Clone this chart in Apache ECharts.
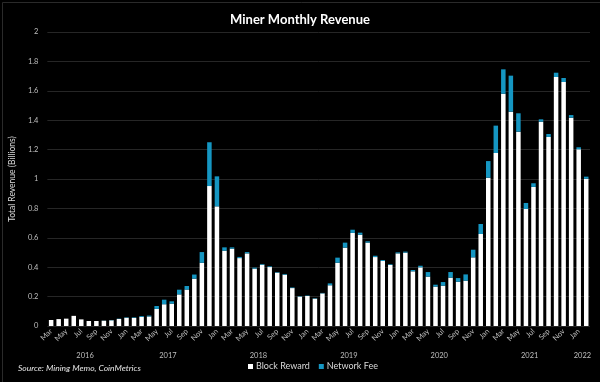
<!DOCTYPE html>
<html>
<head>
<meta charset="utf-8">
<script src="https://cdn.jsdelivr.net/npm/echarts@6/dist/echarts.min.js"></script>
<style>
html,body{margin:0;padding:0;background:#000;}
#c{width:600px;height:382px;background:#000;}
</style>
</head>
<body>
<div id="c"></div>
<script>
const months = ["Mar-16","Apr-16","May-16","Jun-16","Jul-16","Aug-16","Sep-16","Oct-16","Nov-16","Dec-16",
"Jan-17","Feb-17","Mar-17","Apr-17","May-17","Jun-17","Jul-17","Aug-17","Sep-17","Oct-17","Nov-17","Dec-17",
"Jan-18","Feb-18","Mar-18","Apr-18","May-18","Jun-18","Jul-18","Aug-18","Sep-18","Oct-18","Nov-18","Dec-18",
"Jan-19","Feb-19","Mar-19","Apr-19","May-19","Jun-19","Jul-19","Aug-19","Sep-19","Oct-19","Nov-19","Dec-19",
"Jan-20","Feb-20","Mar-20","Apr-20","May-20","Jun-20","Jul-20","Aug-20","Sep-20","Oct-20","Nov-20","Dec-20",
"Jan-21","Feb-21","Mar-21","Apr-21","May-21","Jun-21","Jul-21","Aug-21","Sep-21","Oct-21","Nov-21","Dec-21",
"Jan-22","Feb-22"];

const blockReward = [0.041,0.047,0.050,0.069,0.045,0.034,0.034,0.036,0.039,0.048,
0.056,0.055,0.062,0.065,0.116,0.148,0.152,0.215,0.248,0.322,0.430,0.952,
0.814,0.512,0.526,0.462,0.494,0.390,0.417,0.401,0.363,0.349,0.258,0.200,
0.204,0.186,0.222,0.277,0.430,0.533,0.633,0.621,0.567,0.469,0.442,0.415,
0.494,0.499,0.372,0.399,0.336,0.268,0.274,0.329,0.301,0.308,0.467,0.626,
1.009,1.177,1.580,1.458,1.322,0.796,0.946,1.390,1.286,1.694,1.660,1.417,
1.202,1.002];

const networkFee = [0,0,0,0,0,0,0,0.001,0.002,0.002,
0.003,0.004,0.006,0.006,0.020,0.031,0.016,0.032,0.024,0.028,0.073,0.298,
0.204,0.023,0.009,0.008,0.009,0.007,0.005,0.005,0.004,0.005,0.004,0.003,
0.003,0.003,0.003,0.013,0.035,0.034,0.022,0.014,0.009,0.009,0.007,0.005,
0.007,0.007,0.009,0.011,0.031,0.013,0.025,0.038,0.025,0.043,0.052,0.068,
0.113,0.186,0.166,0.245,0.125,0.041,0.025,0.016,0.020,0.029,0.027,0.018,
0.014,0.014];

const yearLabels = ["2016","2017","2018","2019","2020","2021","2022"];
const yearCenters = [4.5,15.5,27.5,39.5,51.5,63.5,70.5];

const FONT = 'Lato';
const chart = echarts.init(document.getElementById('c'));
chart.setOption({
  backgroundColor: '#000',
  animation: false,
  textStyle: {fontFamily: FONT},
  title: {
    text: 'Miner Monthly Revenue',
    left: 'center', top: 8,
    textStyle: {color: '#ffffff', fontSize: 13, fontWeight: 'bold', fontFamily: FONT}
  },
  grid: {left: 38, right: 10, top: 32, bottom: 56, containLabel: false},
  legend: {
    bottom: 6, left: 243,
    icon: 'rect', itemWidth: 5, itemHeight: 5, itemGap: 9,
    textStyle: {color: '#d9d9d9', fontSize: 9, fontFamily: FONT, padding: [0,0,0,-2]},
    data: ['Block Reward', 'Network Fee']
  },
  xAxis: [{
    type: 'category',
    data: months,
    axisLine: {show: false},
    axisTick: {show: false},
    axisLabel: {
      interval: 1, rotate: 45, margin: 4,
      color: '#bfbfbf', fontSize: 7.5, fontFamily: FONT,
      formatter: v => v.split('-')[0]
    }
  }, {
    type: 'value',
    min: -0.5, max: 71.5,
    position: 'bottom',
    offset: 18,
    axisLine: {show: false},
    axisTick: {show: false},
    splitLine: {show: false},
    axisLabel: {
      customValues: yearCenters,
      margin: 8,
      color: '#bfbfbf', fontSize: 7.5, fontFamily: FONT,
      formatter: v => {
        const k = yearCenters.indexOf(v);
        return k >= 0 ? yearLabels[k] : '';
      }
    }
  }],
  yAxis: {
    type: 'value',
    min: 0, max: 2, interval: 0.2,
    name: 'Total Revenue (Billions)',
    nameLocation: 'middle',
    nameGap: 15,
    nameTextStyle: {color: '#d9d9d9', fontSize: 8.5, fontFamily: FONT},
    axisLine: {show: false},
    axisTick: {show: false},
    axisLabel: {
      color: '#bfbfbf', fontSize: 7.5, margin: 9, fontFamily: FONT,
      formatter: v => String(Math.round(v * 10) / 10)
    },
    splitLine: {lineStyle: {color: '#262626', width: 1}}
  },
  series: [{
    name: 'Block Reward',
    type: 'bar',
    stack: 'rev',
    barWidth: 4.5,
    data: blockReward,
    itemStyle: {color: '#ffffff'}
  }, {
    name: 'Network Fee',
    type: 'bar',
    stack: 'rev',
    barWidth: 4.5,
    data: networkFee,
    itemStyle: {color: '#1596c2'}
  }],
  graphic: [{
    type: 'rect',
    left: 0, top: 0,
    shape: {x: 0.5, y: 0.5, width: 599, height: 381},
    style: {fill: 'none', stroke: '#2a2a2a', lineWidth: 1},
    silent: true
  }, {
    type: 'text',
    left: 18, top: 364,
    style: {
      text: 'Source: Mining Memo, CoinMetrics',
      fill: '#e6e6e6', fontSize: 8.5, fontStyle: 'italic', fontFamily: FONT
    }
  }]
});
</script>
</body>
</html>
